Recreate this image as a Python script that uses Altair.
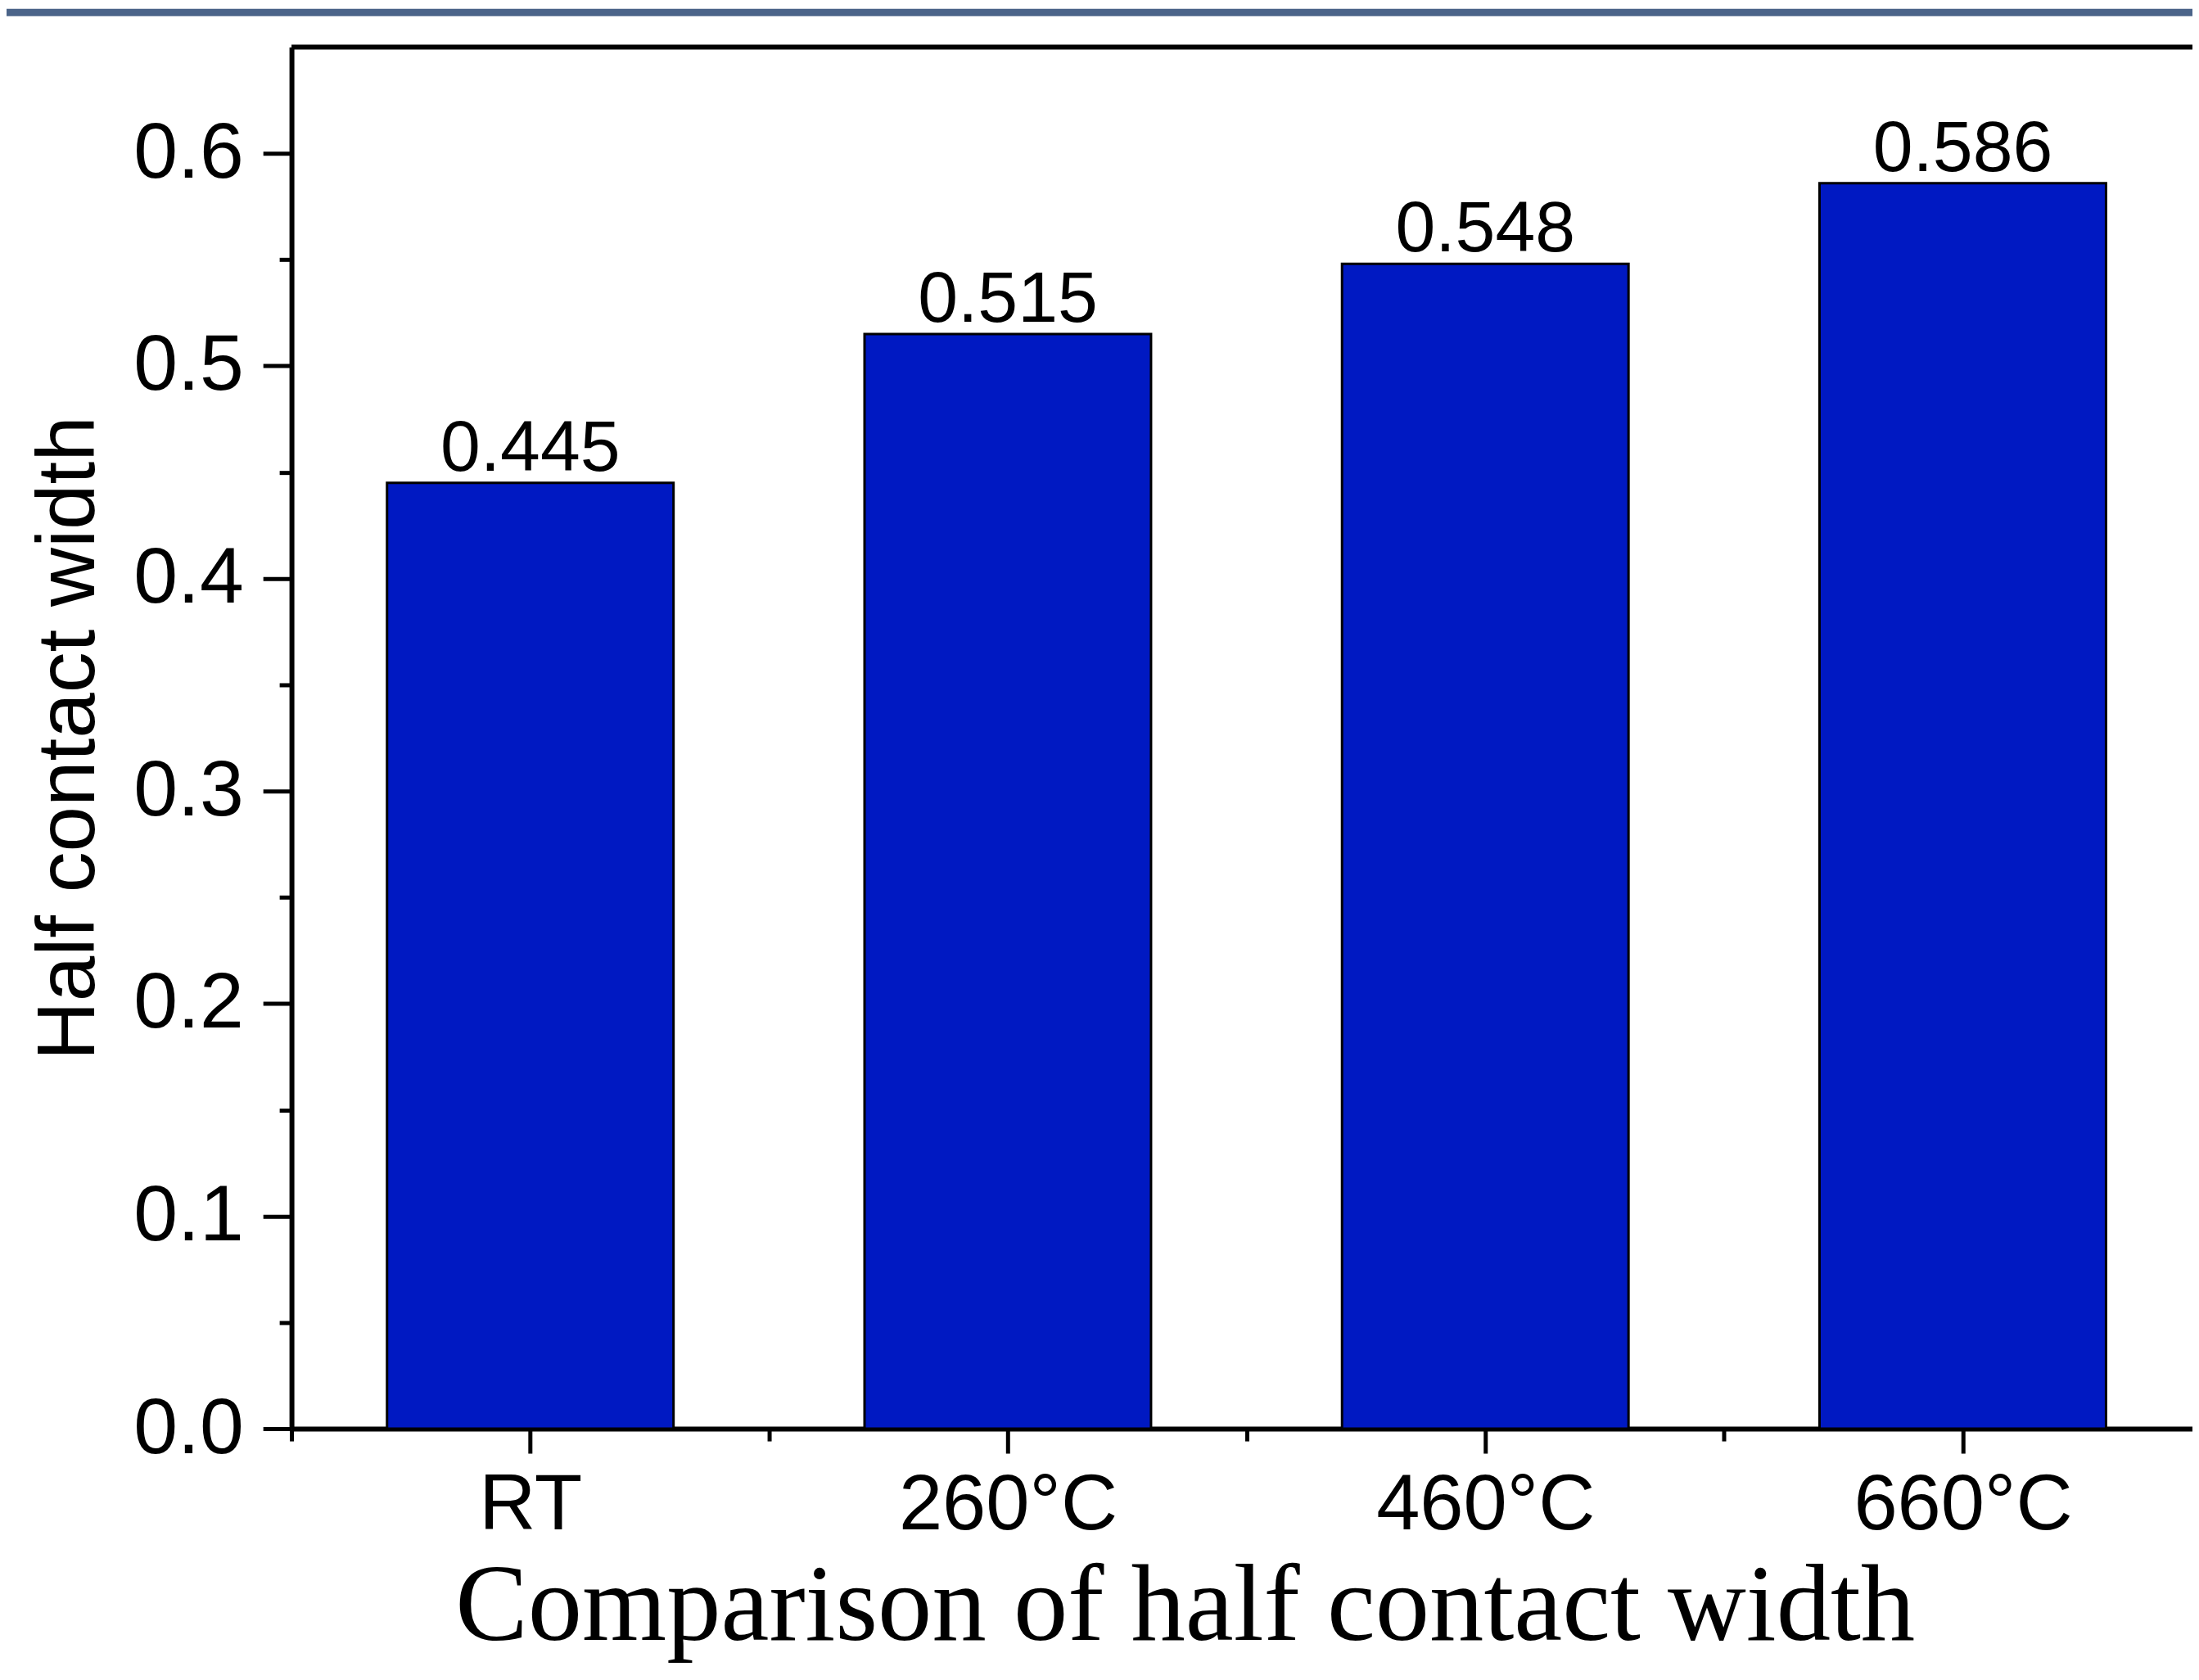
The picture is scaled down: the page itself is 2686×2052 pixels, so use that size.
import json
import altair as alt
import pandas as pd

# ---- data ----
categories = ["RT", "260°C", "460°C", "660°C"]
values = [0.445, 0.515, 0.548, 0.586]
value_labels = ["0.445", "0.515", "0.548", "0.586"]
y_tick_values = [0.0, 0.05, 0.1, 0.15, 0.2, 0.25, 0.3, 0.35, 0.4, 0.45, 0.5, 0.55, 0.6]
x_tick_values = [-0.5, 0, 0.5, 1, 1.5, 2, 2.5, 3]

Y_MAX = 0.65
X_MIN = -0.5
X_MAX = 3.481

W = 2328
H = 1692
BAR_COLOR = "#0019C2"
FONT = "Liberation Sans"

df = pd.DataFrame({
    "cat": categories,
    "val": values,
    "lab": value_labels,
    "pos": list(range(len(categories))),
})

x_scale = alt.Scale(domain=[X_MIN, X_MAX], nice=False, zero=False)
y_scale = alt.Scale(domain=[0, Y_MAX], nice=False, zero=True)

cats_js = json.dumps(categories, ensure_ascii=False)
x_minor = "round(datum.value*2) % 2 != 0"
y_minor = "round(datum.value*20) % 2 == 1"

x_axis = alt.Axis(
    values=x_tick_values,
    labelExpr=f"{x_minor} ? '' : {cats_js}[round(datum.value)]",
    tickSize={"condition": {"test": x_minor, "value": 15}, "value": 30},
    tickWidth=5, tickColor="black",
    domainWidth=6, domainColor="black",
    labelFont=FONT, labelFontSize=96, labelColor="black", labelPadding=17,
    labelFlush=False, labelOverlap=False, labelLimit=0,
    grid=False,
    title="Comparison of half contact width",
    titleFont="Liberation Serif", titleFontSize=133, titleFontWeight="normal",
    titleColor="black", titleX=1094, titleY=258,
    titleAlign="center", titleBaseline="alphabetic", titleLimit=0,
)

y_axis = alt.Axis(
    values=y_tick_values,
    labelExpr=f"{y_minor} ? '' : format(datum.value, '.1f')",
    tickSize={"condition": {"test": y_minor, "value": 15}, "value": 35},
    tickWidth=5, tickColor="black",
    domainWidth=6, domainColor="black",
    labelFont=FONT, labelFontSize=97, labelColor="black", labelPadding=24,
    labelFlush=False, labelOverlap=False, labelLimit=0,
    grid=False,
    title="Half contact width",
    titleFont=FONT, titleFontSize=100, titleFontWeight="normal",
    titleColor="black", titleX=-242, titleY=846,
    titleAlign="center", titleBaseline="alphabetic", titleAngle=270, titleLimit=0,
)

base = alt.Chart(df)

bars = base.transform_calculate(
    x0="datum.pos - 0.3", x1="datum.pos + 0.3", y0="0"
).mark_rect(color=BAR_COLOR, stroke="black", strokeWidth=3).encode(
    x=alt.X("x0:Q", scale=x_scale, axis=x_axis),
    x2="x1:Q",
    y=alt.Y("val:Q", scale=y_scale, axis=y_axis),
    y2="y0:Q",
)

labels = base.mark_text(
    baseline="alphabetic", align="center", dy=-15,
    font=FONT, fontSize=88, color="black",
).encode(
    x=alt.X("pos:Q", scale=x_scale),
    y=alt.Y("val:Q", scale=y_scale),
    text="lab:N",
)

frame_df = pd.DataFrame({"fx0": [X_MIN], "fx1": [X_MAX], "fy": [Y_MAX]})
top_line = alt.Chart(frame_df).mark_rule(color="black", strokeWidth=6).encode(
    x=alt.X("fx0:Q", scale=x_scale),
    x2="fx1:Q",
    y=alt.Y("fy:Q", scale=y_scale),
)

banner = alt.Chart(frame_df).mark_rect(color="#4b6489").encode(
    x=alt.value(-349), x2=alt.value(W), y=alt.value(-47), y2=alt.value(-38)
)

chart = alt.layer(bars, labels, top_line, banner).properties(
    width=W,
    height=H,
    autosize=alt.AutoSizeParams(type="none"),
    padding={"left": 349, "top": 47, "right": 0, "bottom": 287},
    background="white",
).configure_view(stroke=None)

chart.save("out.html", embed_options={"renderer": "svg", "actions": False})
